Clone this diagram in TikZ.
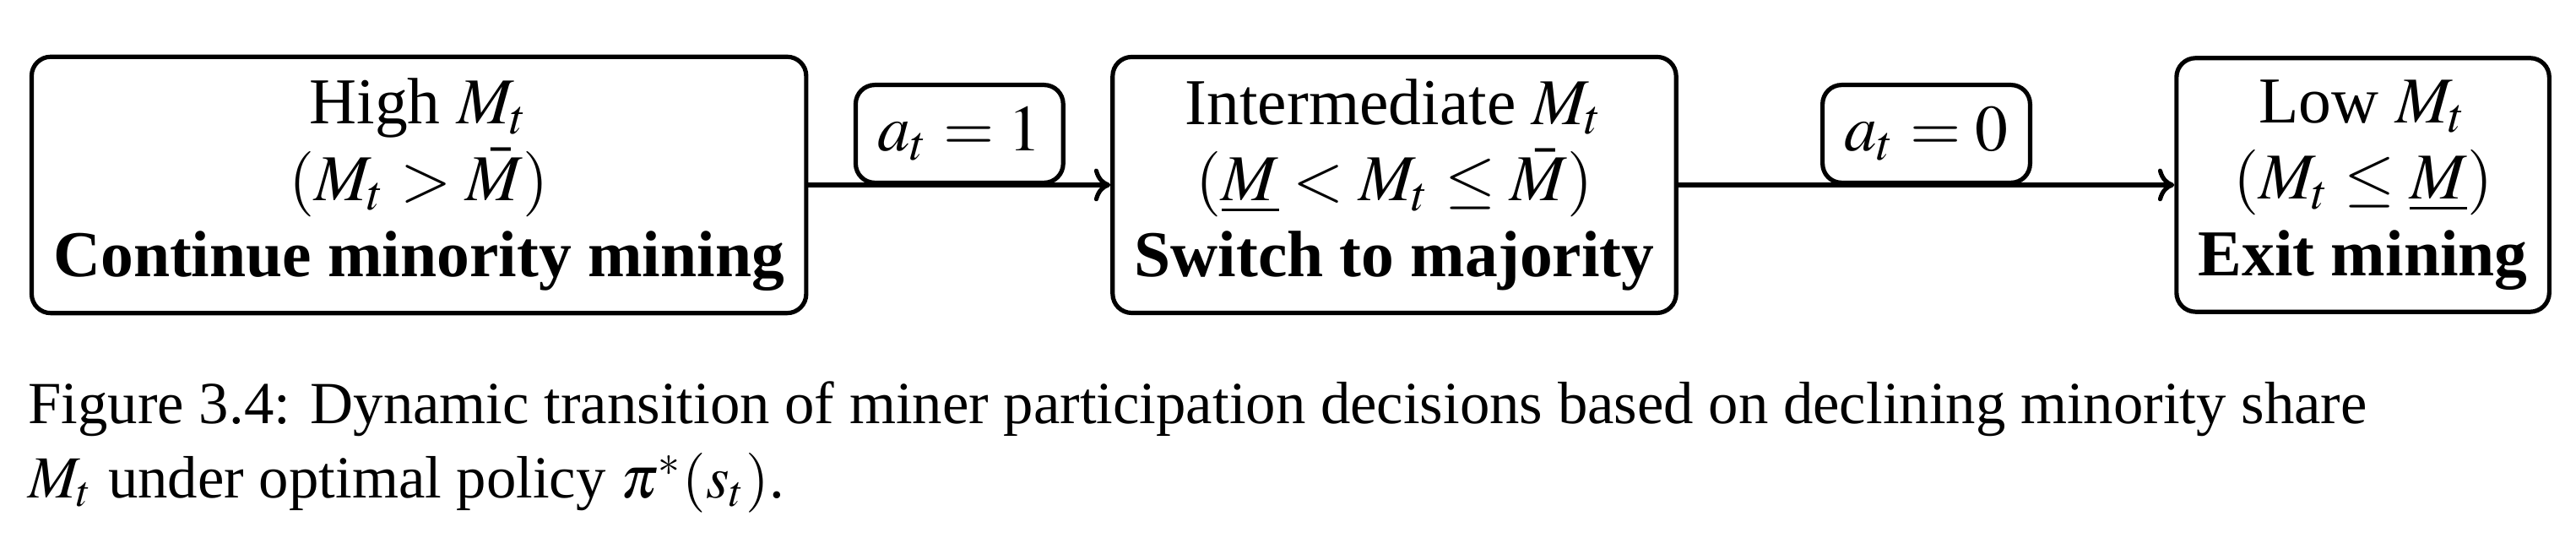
\documentclass[tikz,border=0pt]{standalone}
\usepackage{mathptmx}
\usepackage{fontspec}
\setmainfont{Liberation Serif}
\usetikzlibrary{arrows.meta}
\tikzset{
  statebox/.style={draw, thick, rounded corners=3.5pt, align=center, inner sep=4pt,
    font=\fontsize{12}{14}\selectfont},
  actbox/.style={draw, thick, rounded corners=3.5pt, inner sep=4pt,
    font=\fontsize{12}{14}\selectfont},
  flow/.style={thick, -{To[length=3pt,width=6pt]}},
  captext/.style={anchor=base west, inner sep=0pt, font=\fontsize{10.95}{13.6}\selectfont}
}
\begin{document}
\begin{tikzpicture}[x=1pt,y=1pt]
\useasboundingbox (0,0) rectangle (472.3,98.6);
\node[statebox, anchor=west] (b1) at (5.4,64.7)
  {High $M_t$\\ $(M_t>\bar{M})$\\ \textbf{Continue minority mining}};
\node[statebox, anchor=west] (b2) at (203.6,64.7)
  {Intermediate $M_t$\\ $(\underline{M}<M_t\leq\bar{M})$\\ \textbf{Switch to majority}};
\node[statebox, anchor=east] (b3) at (467.8,64.7)
  {Low $M_t$\\ $(M_t\leq\underline{M})$\\ \textbf{Exit mining}};
\draw[flow] (b1) -- node[actbox, above, midway] (l1) {$a_t=1$} (b2);
\draw[flow] (b2) -- node[actbox, above, midway] (l2) {$a_t=0$} (b3);
\node[captext] (c1) at (5,20.9)
  {Figure 3.4: Dynamic transition of miner participation decisions based on declining minority share};
\node[captext] (c2) at (5,7.4)
  {$M_t$ under optimal policy $\pi^*(s_t)$.};
\end{tikzpicture}
\end{document}
